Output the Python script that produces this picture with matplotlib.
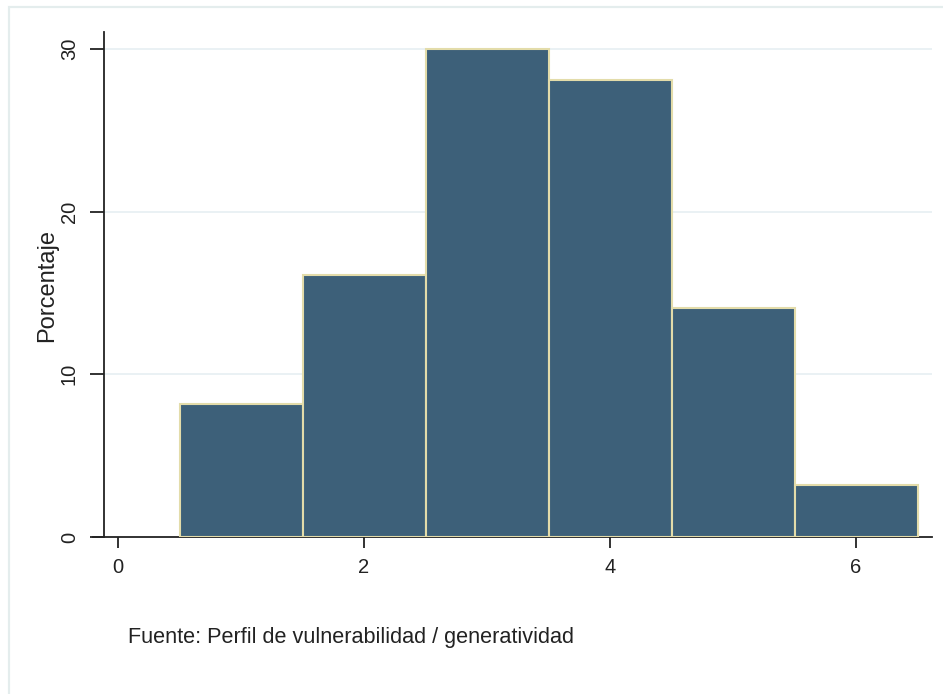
import matplotlib.pyplot as plt
from matplotlib.patches import Rectangle

plt.rcParams['font.family'] = ['Liberation Sans', 'DejaVu Sans']

# datos del histograma (centros de clase y porcentajes)
centros = [1, 2, 3, 4, 5, 6]
porcentajes = [8.2, 16.1, 30.0, 28.1, 14.1, 3.2]
xticks = [0, 2, 4, 6]
yticks = [0, 10, 20, 30]
fuente = "Fuente: Perfil de vulnerabilidad / generatividad"

W, H = 943, 694
fig = plt.figure(figsize=(W / 100, H / 100), dpi=100)
fig.patch.set_facecolor("white")

# marco claro del grafico
fig.patches.append(Rectangle((9 / W, -0.1), 1.2, 1 - 7 / H + 0.1,
                             transform=fig.transFigure, fill=False,
                             edgecolor="#e4eded", linewidth=1.6))

# px: eje x de 93 a 932, eje y de 32 a 537
ax = fig.add_axes([93 / W, (H - 537) / H, (932 - 93) / W, (537 - 32) / H])
ax.set_xlim((93 - 118) / 123.0, (932 - 118) / 123.0)
ax.set_ylim(0, (537 - 32) / 16.27)

ax.bar(centros, porcentajes, width=1.0, color="#3d6079",
       edgecolor="#e3dcaa", linewidth=1.5, zorder=3)

for t in yticks[1:]:
    ax.plot([(104 - 118) / 123.0, (933 - 118) / 123.0], [t, t],
            color="#e8f0f3", linewidth=1.3, zorder=1)

for s in ["top", "right"]:
    ax.spines[s].set_visible(False)
ax.spines["left"].set_position(("data", (104 - 118) / 123.0))
for s in ["left", "bottom"]:
    ax.spines[s].set_color("#222222")
    ax.spines[s].set_linewidth(1.3)

ax.set_xticks(xticks)
ax.set_yticks(yticks)
ax.tick_params(axis="x", length=8, width=1.3, color="#222222", pad=7,
               labelsize=14.5, labelcolor="#222222")
ax.tick_params(axis="y", length=10, width=1.3, color="#222222", pad=8,
               labelsize=14.5, labelcolor="#222222", labelrotation=90)
for lab in ax.get_yticklabels():
    lab.set_verticalalignment("center")

ax.set_ylabel("Porcentaje", fontsize=17, color="#222222")
ax.yaxis.set_label_coords((47 - 93) / (932 - 93), (537 - 285) / (537 - 32))
ax.yaxis.label.set_verticalalignment("center")

fig.text(128 / W, 1 - 638 / H, fuente, fontsize=15.6, color="#222222",
         ha="left", va="center")

fig.savefig("out.png", dpi=100)
